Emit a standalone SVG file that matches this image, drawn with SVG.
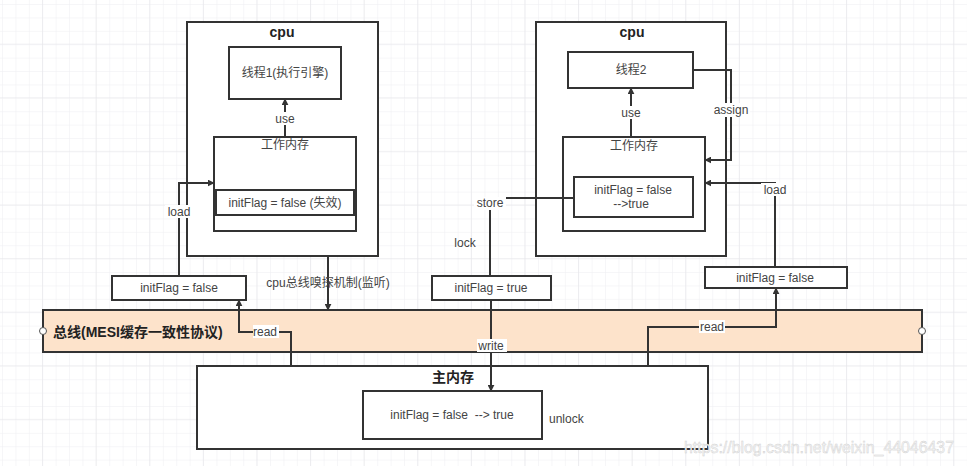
<svg xmlns="http://www.w3.org/2000/svg" width="967" height="466" viewBox="0 0 967 466">
<defs>
<pattern id="minor" x="3" y="5" width="13.4" height="13.4" patternUnits="userSpaceOnUse">
<path d="M13.4 0V13.4H0" fill="none" stroke="#eeeef2" stroke-width="1"/>
</pattern>
<pattern id="major" x="-10.6" y="-9" width="53.6" height="53.6" patternUnits="userSpaceOnUse">
<path d="M53.6 0V53.6H0" fill="none" stroke="#e6e6ea" stroke-width="1.2"/>
</pattern>
<marker id="arr" viewBox="0 0 10 10" refX="9" refY="5" markerWidth="7" markerHeight="7" orient="auto-start-reverse" markerUnits="userSpaceOnUse">
<path d="M0 0L10 5L0 10z" fill="#333"/>
</marker>
<style>
.box{fill:#fff;stroke:#333;stroke-width:2}
.bus{fill:#fde3cb;stroke:#333;stroke-width:2}
.t{font-family:"Liberation Sans","Noto Sans CJK SC",sans-serif;font-size:12px;fill:#444;text-anchor:middle}
.b{font-family:"Liberation Sans","Noto Sans CJK SC",sans-serif;font-size:14px;font-weight:bold;fill:#222;text-anchor:middle}
.c{fill:none;stroke:#333;stroke-width:2}
.lbl{fill:#fff}
.wm{font-family:"Liberation Sans",sans-serif;font-size:16px;fill:#f4f4f4;stroke:#cfcfcf;stroke-width:0.4}
</style>
</defs>
<rect width="967" height="466" fill="#fff"/>
<rect width="967" height="466" fill="url(#minor)"/>
<rect width="967" height="466" fill="url(#major)"/>

<g id="cpu1">
<rect class="box" x="187" y="22" width="191" height="234"/>
<text class="b" x="282" y="37">cpu</text>
</g>
<g id="thread1">
<rect class="box" x="229" y="47" width="112" height="52"/>
<text class="t" x="285" y="77">线程1(执行引擎)</text>
</g>
<g id="wm1">
<rect class="box" x="214" y="137" width="142" height="94"/>
<text class="t" x="285" y="149">工作内存</text>
</g>
<g id="flag1">
<rect class="box" x="216" y="190" width="138" height="25"/>
<text class="t" x="285" y="207">initFlag = false (失效)</text>
</g>

<g id="cpu2">
<rect class="box" x="536" y="22" width="190" height="234"/>
<text class="b" x="632" y="37">cpu</text>
</g>
<g id="thread2">
<rect class="box" x="568" y="52" width="125" height="36"/>
<text class="t" x="631" y="74">线程2</text>
</g>
<g id="wm2">
<rect class="box" x="563" y="137" width="142" height="94"/>
<text class="t" x="634" y="150">工作内存</text>
</g>
<g id="flag2">
<rect class="box" x="574" y="177" width="119" height="40"/>
<text class="t" x="633" y="194">initFlag = false</text>
<text class="t" x="631" y="208">--&gt;true</text>
</g>

<g id="copyLeft">
<rect class="box" x="112" y="276" width="134" height="24"/>
<text class="t" x="179" y="292">initFlag = false</text>
</g>
<g id="copyMid">
<rect class="box" x="432" y="276" width="119" height="24"/>
<text class="t" x="491" y="292">initFlag = true</text>
</g>
<g id="copyRight">
<rect class="box" x="705" y="267" width="142" height="21"/>
<text class="t" x="775" y="282">initFlag = false</text>
</g>

<g id="bus">
<rect class="bus" x="43" y="310" width="879" height="42"/>
<text class="b" x="53" y="337" style="text-anchor:start">总线(MESI缓存一致性协议)</text>
<circle cx="43" cy="331" r="3.5" fill="#fff" stroke="#555" stroke-width="1"/>
<circle cx="922" cy="331" r="3.5" fill="#fff" stroke="#555" stroke-width="1"/>
</g>

<g id="mainMemory">
<rect class="box" x="197" y="366" width="511" height="83"/>
<text class="b" x="453" y="382">主内存</text>
</g>
<g id="mainFlag">
<rect class="box" x="363" y="391" width="179" height="48"/>
<text class="t" x="452" y="419" xml:space="preserve">initFlag = false  --&gt; true</text>
</g>

<g id="connectors">
<path class="c" d="M285 137V99" marker-end="url(#arr)"/>
<rect class="lbl" x="273" y="112" width="24" height="13"/>
<text class="t" x="285" y="123">use</text>

<path class="c" d="M179 276V183H214" marker-end="url(#arr)"/>
<rect class="lbl" x="165" y="205" width="28" height="13"/>
<text class="t" x="179" y="216">load</text>

<path class="c" d="M328 256V310" marker-end="url(#arr)"/>
<text class="t" x="328" y="287">cpu总线嗅探机制(监听)</text>

<path class="c" d="M239 300V332H291V366" marker-start="url(#arr)"/>
<rect class="lbl" x="253" y="325" width="26" height="13"/>
<text class="t" x="265" y="336">read</text>

<path class="c" d="M631 137V88" marker-end="url(#arr)"/>
<rect class="lbl" x="619" y="106" width="24" height="13"/>
<text class="t" x="631" y="117">use</text>

<path class="c" d="M693 70H731V160H705" marker-end="url(#arr)"/>
<rect class="lbl" x="712" y="103" width="38" height="14"/>
<text class="t" x="731" y="114">assign</text>

<path class="c" d="M775 267V183H705" marker-end="url(#arr)"/>
<rect class="lbl" x="761" y="183" width="28" height="13"/>
<text class="t" x="775" y="194">load</text>

<path class="c" d="M574 198H490V276"/>
<rect class="lbl" x="474" y="197" width="32" height="13"/>
<text class="t" x="490" y="207">store</text>
<text class="t" x="465" y="247">lock</text>

<path class="c" d="M491 300V391" marker-end="url(#arr)"/>
<rect class="lbl" x="477" y="339" width="30" height="13"/>
<text class="t" x="491" y="350">write</text>

<path class="c" d="M648 366V327H776V288" marker-end="url(#arr)"/>
<rect class="lbl" x="699" y="320" width="26" height="13"/>
<text class="t" x="712" y="331">read</text>

<text class="t" x="549" y="423" style="text-anchor:start">unlock</text>
</g>
<text class="wm" x="684" y="453" textLength="270" lengthAdjust="spacingAndGlyphs">https://blog.csdn.net/weixin_44046437</text>
</svg>
